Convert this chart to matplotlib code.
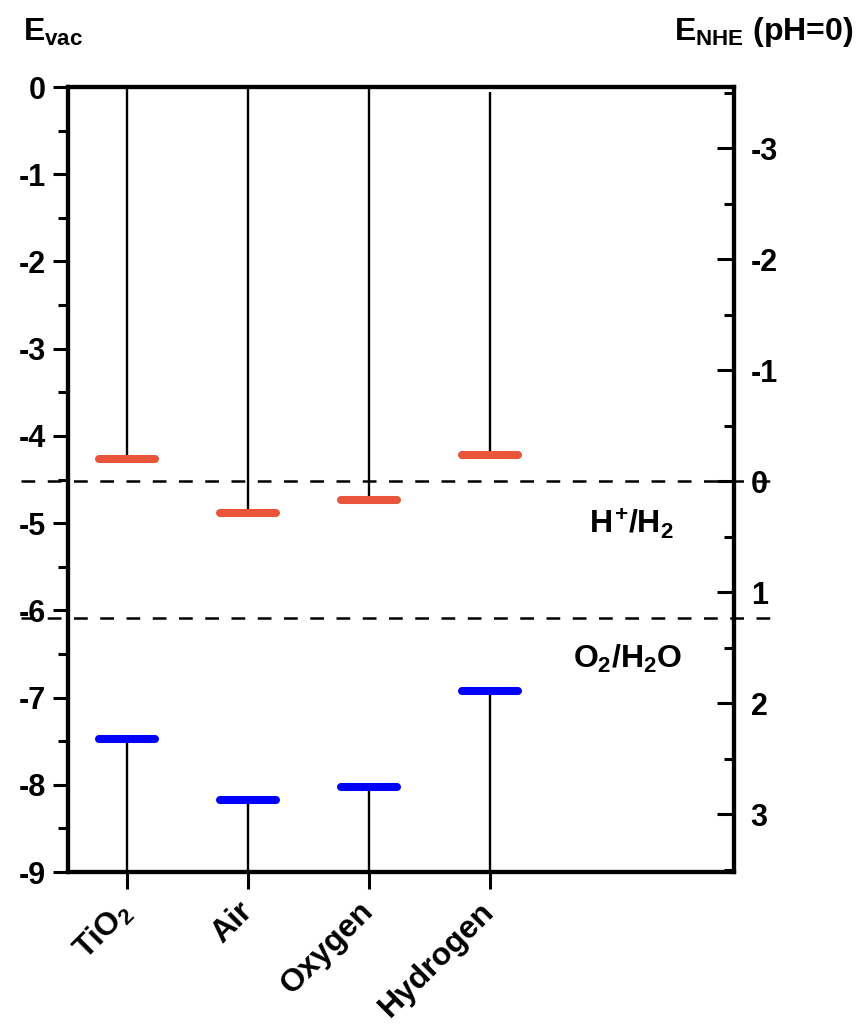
import matplotlib
matplotlib.use("Agg")
import matplotlib.pyplot as plt
from matplotlib.ticker import FixedLocator, MultipleLocator

plt.rcParams['font.family'] = ['Liberation Sans', 'DejaVu Sans']
plt.rcParams['font.weight'] = 'bold'
plt.rcParams['axes.unicode_minus'] = False
plt.rcParams['mathtext.fontset'] = 'custom'
plt.rcParams['mathtext.rm'] = 'Liberation Sans:bold'
plt.rcParams['mathtext.it'] = 'Liberation Sans:bold'
plt.rcParams['mathtext.bf'] = 'Liberation Sans:bold'

# Band edges (eV vs. vacuum level)
categories = ['TiO$_2$', 'Air', 'Oxygen', 'Hydrogen']
cb_edge = [-4.27, -4.88, -4.74, -4.22]    # conduction band minimum
vb_edge = [-7.48, -8.17, -8.02, -6.93]    # valence band maximum
vac_top = [0.0, 0.0, 0.0, -0.06]          # upper end of the connector line
evac_bottom = -9.0

# Water redox potentials (V vs. NHE, pH = 0)
redox_nhe = [0.0, 1.23]
redox_labels = [r'$H^{\!+}\!/H_2$', '$O_2/H_2O$']

evac_ticks = [0, -1, -2, -3, -4, -5, -6, -7, -8, -9]
nhe_ticks = [-3, -2, -1, 0, 1, 2, 3]

fig = plt.figure(figsize=(8.6, 10.24), dpi=100)
ax = fig.add_axes([0.0791, 0.1484, 0.7744, 0.7666])

x = list(range(1, len(categories) + 1))
half_w = 0.23
red = '#E8553A'
blue = '#0000FF'

for xi, top, cb, vb in zip(x, vac_top, cb_edge, vb_edge):
    ax.plot([xi, xi], [top, cb], color='black', lw=1.7, zorder=2,
            solid_capstyle='butt')
    ax.plot([xi, xi], [vb, evac_bottom], color='black', lw=1.7, zorder=2,
            solid_capstyle='butt')
    ax.plot([xi - half_w, xi + half_w], [cb, cb], color=red, lw=5.8,
            solid_capstyle='round', zorder=3)
    ax.plot([xi - half_w, xi + half_w], [vb, vb], color=blue, lw=5.8,
            solid_capstyle='round', zorder=3)

ax.set_xlim(0.51, 6.02)
ax.set_ylim(-9, 0)

ax.set_xticks(x)
ax.set_xticklabels(categories, rotation=45, ha='right', va='center',
                   rotation_mode='anchor', fontsize=23, fontweight='bold')
ax.yaxis.set_major_locator(FixedLocator(evac_ticks))
ax.set_yticklabels([str(t) for t in evac_ticks], fontsize=22, fontweight='bold')
ax.yaxis.set_minor_locator(MultipleLocator(0.5))

ax.tick_params(axis='y', which='major', direction='out', length=11, width=2.2, pad=5)
ax.tick_params(axis='y', which='minor', direction='out', length=7, width=2.2)
ax.tick_params(axis='x', which='major', direction='out', length=12, width=2.2, pad=13)
ax.tick_params(right=False, top=False)

for s in ax.spines.values():
    s.set_linewidth(3)

# NHE scale on the right
ax2 = ax.twinx()
ax2.set_ylim(3.52, -3.55)
ax2.yaxis.set_major_locator(FixedLocator(nhe_ticks))
ax2.set_yticklabels([str(t) for t in nhe_ticks], fontsize=22, fontweight='bold')
ax2.yaxis.set_minor_locator(MultipleLocator(0.5))
ax2.tick_params(axis='y', which='major', direction='in', length=12, width=2.2, pad=12)
ax2.tick_params(axis='y', which='minor', direction='in', length=7, width=2.2)
for s in ax2.spines.values():
    s.set_linewidth(3)

for e in redox_nhe:
    ax2.plot([0.12, 6.35], [e, e], color='black', lw=1.8, dashes=(5.5, 5),
             clip_on=False, zorder=4)

ax.text(4.82, -5.12, redox_labels[0], fontsize=23, va='baseline')
ax.text(4.69, -6.66, redox_labels[1], fontsize=23, va='baseline')

fig.text(0.027, 0.960, '$E_{vac}$', fontsize=23, va='baseline')
fig.text(0.992, 0.961, 'E$_{NHE}$ (pH=0)', fontsize=23, fontweight='bold',
         va='baseline', ha='right')

fig.savefig('out.png', dpi=100)
